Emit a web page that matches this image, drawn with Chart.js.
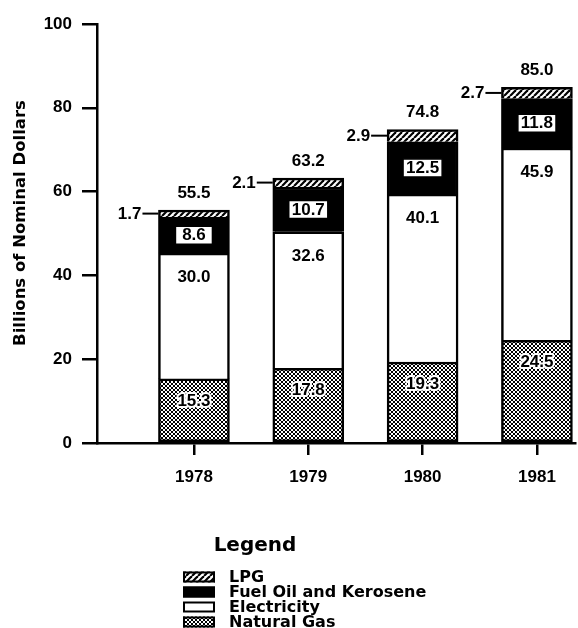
<!DOCTYPE html>
<html><head><meta charset="utf-8">
<script src="https://cdn.jsdelivr.net/npm/chart.js@4"></script>
<style>html,body{margin:0;padding:0;background:#fff}#wrap{width:578px;height:628px}</style>
</head><body><div id="wrap"><canvas id="c" width="578" height="628"></canvas></div>
<script>
const years = [1978, 1979, 1980, 1981];
const naturalGas = [15.3, 17.8, 19.3, 24.5];
const electricity = [30.0, 32.6, 40.1, 45.9];
const fuelOil = [8.6, 10.7, 12.5, 11.8];
const lpg = [1.7, 2.1, 2.9, 2.7];
const totals = [55.5, 63.2, 74.8, 85.0];
const yTicks = [0, 20, 40, 60, 80, 100];
const yTitle = 'Billions of Nominal Dollars';
const legendTitle = 'Legend';

const FONT = '"DejaVu Sans", sans-serif';
const NUMFONT = '"Liberation Sans", Arial, sans-serif';

function makePattern(draw, w, h) {
  const c = document.createElement('canvas');
  c.width = w; c.height = h;
  const x = c.getContext('2d');
  draw(x, w, h);
  return x.createPattern(c, 'repeat');
}
const ngPattern = makePattern((x, w, h) => {
  x.fillStyle = '#fff'; x.fillRect(0, 0, w, h);
  x.fillStyle = '#000';
  for (let i = 0; i < 4; i++) { x.fillRect(i, i, 1, 1); x.fillRect(3 - i, i, 1, 1); }
}, 4, 4);
const lpgPattern = makePattern((x, w, h) => {
  x.fillStyle = '#fff'; x.fillRect(0, 0, w, h);
  x.strokeStyle = '#000'; x.lineWidth = 2.2;
  for (const k of [-6, 0, 6]) { x.beginPath(); x.moveTo(k, h); x.lineTo(k + 6, 0); x.stroke(); }
}, 6, 6);

const styles = {
  'Natural Gas': ngPattern,
  'Electricity': '#fff',
  'Fuel Oil and Kerosene': '#000',
  'LPG': lpgPattern
};

function ds(label, data, skip) {
  return { label, data, backgroundColor: styles[label], borderColor: '#000', borderWidth: 2.5,
           borderSkipped: skip, barThickness: 71 };
}

const labelPlugin = {
  id: 'valueLabels',
  afterDatasetsDraw(chart) {
    const ctx = chart.ctx;
    ctx.save();
    ctx.font = 'bold 17px ' + NUMFONT;
    ctx.textAlign = 'center';
    ctx.textBaseline = 'middle';
    const m = [0, 1, 2, 3].map(i => chart.getDatasetMeta(i).data);
    years.forEach((yr, i) => {
      const ng = m[0][i], el = m[1][i], fo = m[2][i], lp = m[3][i];
      const t0 = naturalGas[i].toFixed(1);
      ctx.lineWidth = 4; ctx.strokeStyle = '#fff'; ctx.lineJoin = 'round';
      ctx.strokeText(t0, ng.x, ng.y + 22);
      ctx.fillStyle = '#000';
      ctx.fillText(t0, ng.x, ng.y + 22);
      ctx.fillText(electricity[i].toFixed(1), el.x, el.y + 24);
      const t2 = fuelOil[i].toFixed(1);
      const tw = Math.max(ctx.measureText(t2).width + 6, 37);
      const cy = (fo.y + fo.base) / 2;
      ctx.fillStyle = '#fff';
      ctx.fillRect(fo.x - tw / 2, cy - 9, tw, 18);
      ctx.strokeStyle = '#000'; ctx.lineWidth = 1.5;
      ctx.strokeRect(fo.x - tw / 2, cy - 9, tw, 18);
      ctx.fillStyle = '#000';
      ctx.fillText(t2, fo.x, cy + 0.5);
      const ly = (lp.y + lp.base) / 2;
      const left = lp.x - lp.width / 2;
      ctx.beginPath(); ctx.moveTo(left - 16, ly); ctx.lineTo(left, ly);
      ctx.lineWidth = 2; ctx.strokeStyle = '#000'; ctx.stroke();
      ctx.textAlign = 'right';
      ctx.fillText(lpg[i].toFixed(1), left - 17, ly + 0.5);
      ctx.textAlign = 'center';
      ctx.fillText(totals[i].toFixed(1), lp.x, lp.y - 17);
    });
    ctx.restore();
  }
};

const legendPlugin = {
  id: 'customLegend',
  afterDraw(chart) {
    const ctx = chart.ctx;
    ctx.save();
    ctx.fillStyle = '#000';
    ctx.textBaseline = 'middle';
    // y axis title
    ctx.save();
    ctx.translate(21, 223);
    ctx.rotate(-Math.PI / 2);
    ctx.textAlign = 'center';
    ctx.font = 'bold 16.5px ' + FONT;
    ctx.fillText(yTitle, 0, 0);
    ctx.restore();
    // legend
    ctx.textAlign = 'center';
    ctx.font = 'bold 20px ' + FONT;
    ctx.fillText(legendTitle, 255, 546);
    ctx.textAlign = 'left';
    ctx.font = 'bold 16px ' + FONT;
    const order = [3, 2, 1, 0];
    const rows = [577, 592, 607, 622];
    order.forEach((di, r) => {
      const d = chart.data.datasets[di];
      const y = rows[r];
      ctx.fillStyle = d.backgroundColor;
      ctx.fillRect(183, y - 5.5, 32, 11);
      ctx.strokeStyle = '#000'; ctx.lineWidth = 2;
      ctx.strokeRect(184, y - 4.5, 30, 9);
      ctx.fillStyle = '#000';
      ctx.fillText(d.label, 229, y + 0.5);
    });
    ctx.restore();
  }
};

const tickFont = { family: NUMFONT, weight: 'bold', size: 17 };

new Chart(document.getElementById('c'), {
  type: 'bar',
  data: {
    labels: years,
    datasets: [
      ds('Natural Gas', naturalGas, false),
      ds('Electricity', electricity, 'start'),
      ds('Fuel Oil and Kerosene', fuelOil, 'start'),
      ds('LPG', lpg, 'start')
    ]
  },
  options: {
    responsive: false,
    animation: false,
    layout: { padding: { top: 24, right: 3, left: 0, bottom: 140 } },
    plugins: { legend: { display: false }, tooltip: { enabled: false } },
    scales: {
      x: {
        type: 'linear', stacked: true, min: 1977.152, max: 1981.333, offset: false,
        afterBuildTicks: s => { s.ticks = years.map(v => ({ value: v })); },
        afterFit: s => { s.height = 45; },
        grid: { offset: false, drawOnChartArea: false, drawTicks: true, tickLength: 12, color: '#000', lineWidth: 2.5 },
        border: { display: true, color: '#000', width: 2.5 },
        ticks: { font: tickFont, color: '#000', padding: 12, maxRotation: 0, autoSkip: false,
                 callback: v => String(v) }
      },
      y: {
        stacked: true, min: 0, max: 100,
        afterBuildTicks: s => { s.ticks = yTicks.map(v => ({ value: v })); },
        afterFit: s => { s.width = 97; },
        grid: { drawOnChartArea: false, drawTicks: true, tickLength: 15, color: '#000', lineWidth: 2.5 },
        border: { display: true, color: '#000', width: 2.5 },
        ticks: { font: tickFont, color: '#000', padding: 10, callback: v => String(v) },
        title: { display: false, text: yTitle }
      }
    }
  },
  plugins: [labelPlugin, legendPlugin]
});
</script>
</body></html>
